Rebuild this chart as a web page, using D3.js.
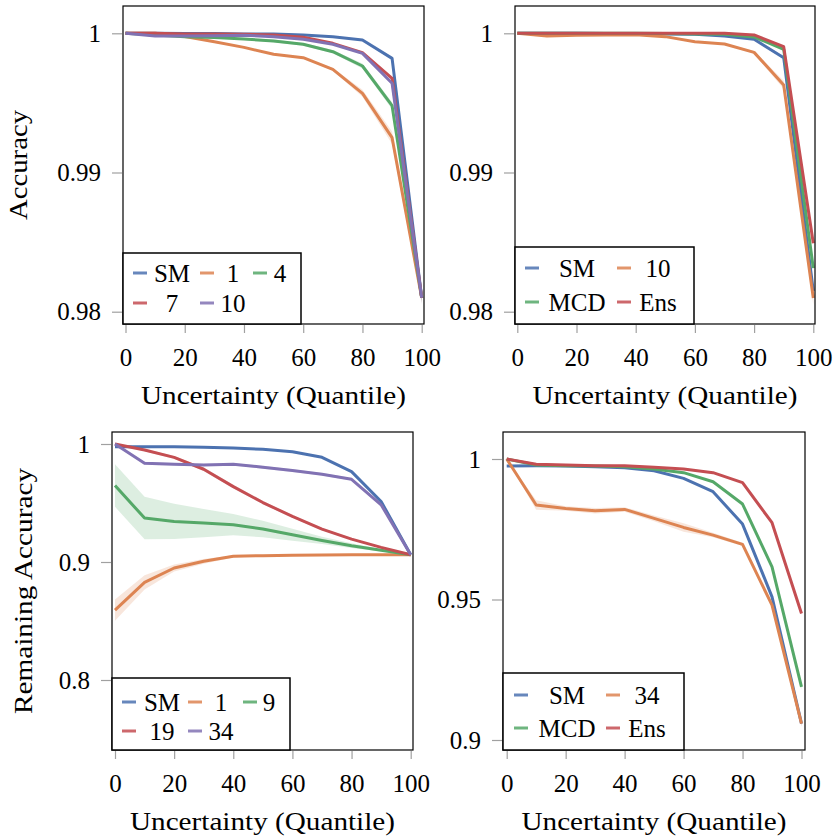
<!DOCTYPE html>
<html>
<head>
<meta charset="utf-8">
<script src="https://cdn.jsdelivr.net/npm/d3@7"></script>
<style>
  body { margin: 0; background: #fff; }
  svg { font-family: "Liberation Serif", "DejaVu Serif", serif; }
</style>
</head>
<body>
<svg id="chart" width="834" height="839"></svg>
<script>
const quantiles = [0, 10, 20, 30, 40, 50, 60, 70, 80, 90, 100];
const xTicks = [0, 20, 40, 60, 80, 100];

// top left: accuracy, softmax vs. number of samples
const tlNames = ["SM", "1", "4", "7", "10"];
const tlSM  = [1, 1, 0.99998, 0.99998, 0.99995, 0.99995, 0.99988, 0.99976, 0.99952, 0.9982, 0.981];
const tl1   = [1, 1, 0.99977, 0.9994, 0.99899, 0.99849, 0.99825, 0.99741, 0.99569, 0.9925, 0.981];
const tl4   = [1, 0.99988, 0.99976, 0.99969, 0.99959, 0.99945, 0.99921, 0.99868, 0.99765, 0.9948, 0.981];
const tl7   = [1, 1, 0.99995, 0.99995, 0.99993, 0.99988, 0.99971, 0.99928, 0.99861, 0.99677, 0.981];
const tl10  = [1, 0.99981, 0.99981, 0.99983, 0.99986, 0.99976, 0.99957, 0.99921, 0.99856, 0.99641, 0.981];
const tlSMsd = [0, 0.00002, 0.00002, 0.00002, 0.00002, 0.00002, 0.00003, 0.00004, 0.00005, 0.0001, 0.0002];
const tl1sd  = [0, 0.00002, 0.00003, 0.00005, 0.00005, 0.00006, 0.00005, 0.0001, 0.00025, 0.00045, 0.0004];
const tl4sd  = [0, 0.00003, 0.00004, 0.00005, 0.00008, 0.0001, 0.0001, 0.00012, 0.00018, 0.00025, 0.0003];
const tl7sd  = [0, 0.00002, 0.00002, 0.00002, 0.00003, 0.00003, 0.00004, 0.00006, 0.00006, 0.0001, 0.0002];
const tl10sd = [0, 0.00006, 0.00004, 0.00003, 0.00003, 0.00004, 0.00004, 0.00005, 0.00006, 0.00012, 0.0005];

// top right: accuracy, methods
const trNames = ["SM", "10", "MCD", "Ens"];
const trSM  = [1, 1, 1, 0.99998, 0.99998, 0.99995, 0.99993, 0.99981, 0.99957, 0.99825, 0.9815];
const tr10  = [1, 0.99981, 0.99986, 0.99988, 0.9999, 0.99976, 0.9994, 0.99923, 0.99863, 0.99629, 0.98098];
const trMCD = [1, 1, 1, 1, 1, 0.99998, 0.99995, 0.99993, 0.99974, 0.99885, 0.98313];
const trEns = [1, 1, 1, 1, 1, 1, 1, 1, 0.99988, 0.99904, 0.98492];
const trSMsd  = [0, 0.00001, 0.00001, 0.00001, 0.00002, 0.00002, 0.00002, 0.00003, 0.00005, 0.0001, 0.0002];
const tr10sd  = [0, 0.00006, 0.00003, 0.00002, 0.00002, 0.00003, 0.00004, 0.00005, 0.0001, 0.0003, 0.0005];
const trMCDsd = [0, 0, 0, 0, 0, 0.00001, 0.00001, 0.00002, 0.00003, 0.00004, 0.0001];
const trEnssd = [0, 0, 0, 0, 0, 0, 0, 0, 0.00002, 0.00003, 0.0001];

// bottom left: remaining accuracy, softmax vs. number of samples
const blNames = ["SM", "1", "9", "19", "34"];
const blSM = [0.9977, 0.9977, 0.9977, 0.9972, 0.9966, 0.9955, 0.9935, 0.9887, 0.9766, 0.9513, 0.9062];
const bl1  = [0.8592, 0.8828, 0.8949, 0.9006, 0.9048, 0.9054, 0.9058, 0.906, 0.9062, 0.9062, 0.9062];
const bl9  = [0.9648, 0.9372, 0.9344, 0.933, 0.9316, 0.9279, 0.9231, 0.9183, 0.9138, 0.9099, 0.9062];
const bl19 = [1, 0.9949, 0.9887, 0.9786, 0.9639, 0.9504, 0.9386, 0.9279, 0.9194, 0.9124, 0.9062];
const bl34 = [1, 0.9837, 0.9828, 0.9823, 0.9828, 0.9803, 0.9775, 0.9744, 0.9701, 0.9485, 0.9062];
const blSMsd = [0, 0.0003, 0.0003, 0.0003, 0.0003, 0.0003, 0.0003, 0.0004, 0.0005, 0.0006, 0];
const bl1sd  = [0.009, 0.006, 0.003, 0.002, 0.001, 0.0005, 0.0003, 0.0002, 0.0001, 0, 0];
const bl9sd  = [0.018, 0.018, 0.015, 0.012, 0.009, 0.007, 0.005, 0.003, 0.002, 0.001, 0];
const bl19sd = [0, 0.001, 0.0012, 0.0015, 0.0015, 0.0012, 0.001, 0.001, 0.0008, 0.0005, 0];
const bl34sd = [0, 0.0012, 0.001, 0.001, 0.001, 0.0012, 0.0012, 0.001, 0.001, 0.0008, 0];

// bottom right: remaining accuracy, methods
const brNames = ["SM", "34", "MCD", "Ens"];
const brSM  = [0.99751, 0.99762, 0.99751, 0.99727, 0.99691, 0.99584, 0.99311, 0.98836, 0.97684, 0.95095, 0.90582];
const br34  = [1, 0.98361, 0.98242, 0.98159, 0.98207, 0.97886, 0.97565, 0.97292, 0.9696, 0.94798, 0.90582];
const brMCD = [1, 0.99786, 0.99762, 0.99751, 0.99727, 0.99644, 0.99513, 0.99192, 0.98397, 0.96164, 0.91888];
const brEns = [1, 0.9981, 0.99786, 0.99762, 0.99762, 0.99703, 0.99644, 0.99513, 0.99157, 0.97732, 0.94501];
const brSMsd  = [0, 0.0001, 0.0001, 0.0001, 0.0001, 0.0001, 0.0002, 0.0003, 0.0004, 0.0005, 0.001];
const br34sd  = [0, 0.0017, 0.0008, 0.001, 0.0008, 0.001, 0.0015, 0.0008, 0.0006, 0.0006, 0.001];
const brMCDsd = [0, 0.0001, 0.0001, 0.0001, 0.0001, 0.0001, 0.0002, 0.0002, 0.0003, 0.0004, 0.001];
const brEnssd = [0, 0.0001, 0.0001, 0.0001, 0.0001, 0.0001, 0.0001, 0.0002, 0.0002, 0.0003, 0.0005];

const blue = "#4c72b0", orange = "#dd8452", green = "#55a868", red = "#c44e52", purple = "#8172b3";
const fontSize = 25;

const panels = [
  {
    frame: [123, 424, 6, 324], xr: [125.5, 421.7], yd: [0.98, 1], yr: [311.7, 33.3],
    yTicks: [0.98, 0.99, 1], yLabel: "Accuracy", yLabelX: 27, yLabelLen: 110,
    series: [
      {name: tlNames[0], v: tlSM, sd: tlSMsd, c: blue},
      {name: tlNames[1], v: tl1, sd: tl1sd, c: orange},
      {name: tlNames[2], v: tl4, sd: tl4sd, c: green},
      {name: tlNames[3], v: tl7, sd: tl7sd, c: red},
      {name: tlNames[4], v: tl10, sd: tl10sd, c: purple}
    ],
    legend: {box: [123, 301, 253], dash: [133, 200, 253], text: [172, 233, 280], rows: [273, 303]}
  },
  {
    frame: [515, 815, 6, 324], xr: [517.3, 813.3], yd: [0.98, 1], yr: [311.7, 33.3],
    yTicks: [0.98, 0.99, 1], yLabel: null,
    series: [
      {name: trNames[0], v: trSM, sd: trSMsd, c: blue},
      {name: trNames[1], v: tr10, sd: tr10sd, c: orange},
      {name: trNames[2], v: trMCD, sd: trMCDsd, c: green},
      {name: trNames[3], v: trEns, sd: trEnssd, c: red}
    ],
    legend: {box: [515, 694, 247], dash: [525, 617], text: [577, 658], rows: [268, 302]}
  },
  {
    frame: [112, 413, 432, 750], xr: [115, 410.7], yd: [0.8, 1], yr: [680, 444],
    yTicks: [0.8, 0.9, 1], yLabel: "Remaining Accuracy", yLabelX: 32, yLabelLen: 246,
    series: [
      {name: blNames[0], v: blSM, sd: blSMsd, c: blue},
      {name: blNames[1], v: bl1, sd: bl1sd, c: orange},
      {name: blNames[2], v: bl9, sd: bl9sd, c: green},
      {name: blNames[3], v: bl19, sd: bl19sd, c: red},
      {name: blNames[4], v: bl34, sd: bl34sd, c: purple}
    ],
    legend: {box: [112, 290, 678], dash: [122, 188, 243], text: [162, 221, 269], rows: [702, 731]}
  },
  {
    frame: [503, 805, 432, 750], xr: [506.7, 801.5], yd: [0.9, 1], yr: [740, 459],
    yTicks: [0.9, 0.95, 1], yLabel: null,
    series: [
      {name: brNames[0], v: brSM, sd: brSMsd, c: blue},
      {name: brNames[1], v: br34, sd: br34sd, c: orange},
      {name: brNames[2], v: brMCD, sd: brMCDsd, c: green},
      {name: brNames[3], v: brEns, sd: brEnssd, c: red}
    ],
    legend: {box: [503, 684, 673], dash: [514, 606], text: [567, 647], rows: [695, 728]}
  }
];

const svg = d3.select("#chart");

panels.forEach((p, pi) => {
  const [fx0, fx1, fy0, fy1] = p.frame;
  const x = d3.scaleLinear().domain([0, 100]).range(p.xr);
  const y = d3.scaleLinear().domain(p.yd).range(p.yr);
  const g = svg.append("g");

  const clipId = "clip" + pi;
  g.append("clipPath").attr("id", clipId)
    .append("rect").attr("x", fx0).attr("y", fy0).attr("width", fx1 - fx0).attr("height", fy1 - fy0);

  // axes
  const yAxis = d3.axisLeft(y).tickValues(p.yTicks).tickSize(10).tickPadding(11).tickFormat(d => String(d));
  g.append("g").attr("transform", `translate(${fx0 - 1},0)`).call(yAxis)
    .call(a => a.select(".domain").remove());
  const xAxis = d3.axisBottom(x).tickValues(xTicks).tickSize(8).tickPadding(15);
  g.append("g").attr("transform", `translate(0,${fy1 + 1})`).call(xAxis)
    .call(a => a.select(".domain").remove());
  g.selectAll(".tick line").attr("stroke", "#a0a0a0").attr("stroke-width", 1.2);
  g.selectAll(".tick text").attr("font-size", fontSize).attr("font-family", "Liberation Serif").attr("fill", "#000");

  const plot = g.append("g").attr("clip-path", `url(#${clipId})`);

  const area = d3.area()
    .x((d, i) => x(quantiles[i]))
    .y0(d => y(d[0] - d[1]))
    .y1(d => y(d[0] + d[1]));
  const line = d3.line()
    .x((d, i) => x(quantiles[i]))
    .y(d => y(d));

  p.series.forEach(s => {
    plot.append("path")
      .datum(s.v.map((v, i) => [v, s.sd[i]]))
      .attr("fill", s.c).attr("fill-opacity", 0.2).attr("stroke", "none")
      .attr("d", area);
  });
  p.series.forEach(s => {
    plot.append("path")
      .datum(s.v)
      .attr("fill", "none").attr("stroke", s.c).attr("stroke-width", 3)
      .attr("stroke-linejoin", "round")
      .attr("d", line);
  });

  // frame
  g.append("rect").attr("x", fx0).attr("y", fy0).attr("width", fx1 - fx0).attr("height", fy1 - fy0)
    .attr("fill", "none").attr("stroke", "#000").attr("stroke-width", 1.2);

  // legend
  const L = p.legend;
  const ncol = L.dash.length;
  const lg = g.append("g");
  lg.append("rect").attr("x", L.box[0]).attr("y", L.box[2]).attr("width", L.box[1] - L.box[0]).attr("height", fy1 - L.box[2])
    .attr("fill", "#fff").attr("stroke", "#000").attr("stroke-width", 1.5);
  p.series.forEach((s, i) => {
    const col = i % ncol, row = Math.floor(i / ncol);
    const ry = L.rows[row];
    lg.append("line").attr("x1", L.dash[col]).attr("x2", L.dash[col] + 14)
      .attr("y1", ry).attr("y2", ry).attr("stroke", s.c).attr("stroke-width", 3).attr("stroke-opacity", 0.85);
    lg.append("text").attr("x", L.text[col]).attr("y", ry + 8.5)
      .attr("text-anchor", "middle").attr("font-size", fontSize).text(s.name);
  });

  // axis labels
  g.append("text")
    .attr("x", (fx0 + fx1) / 2).attr("y", fy1 + 80)
    .attr("text-anchor", "middle").attr("font-size", fontSize)
    .attr("textLength", 265).attr("lengthAdjust", "spacingAndGlyphs")
    .text("Uncertainty (Quantile)");
  if (p.yLabel) {
    g.append("text")
      .attr("transform", `translate(${p.yLabelX},${(fy0 + fy1) / 2}) rotate(-90)`)
      .attr("text-anchor", "middle").attr("font-size", fontSize)
      .attr("textLength", p.yLabelLen).attr("lengthAdjust", "spacingAndGlyphs")
      .text(p.yLabel);
  }
});
</script>
</body>
</html>
